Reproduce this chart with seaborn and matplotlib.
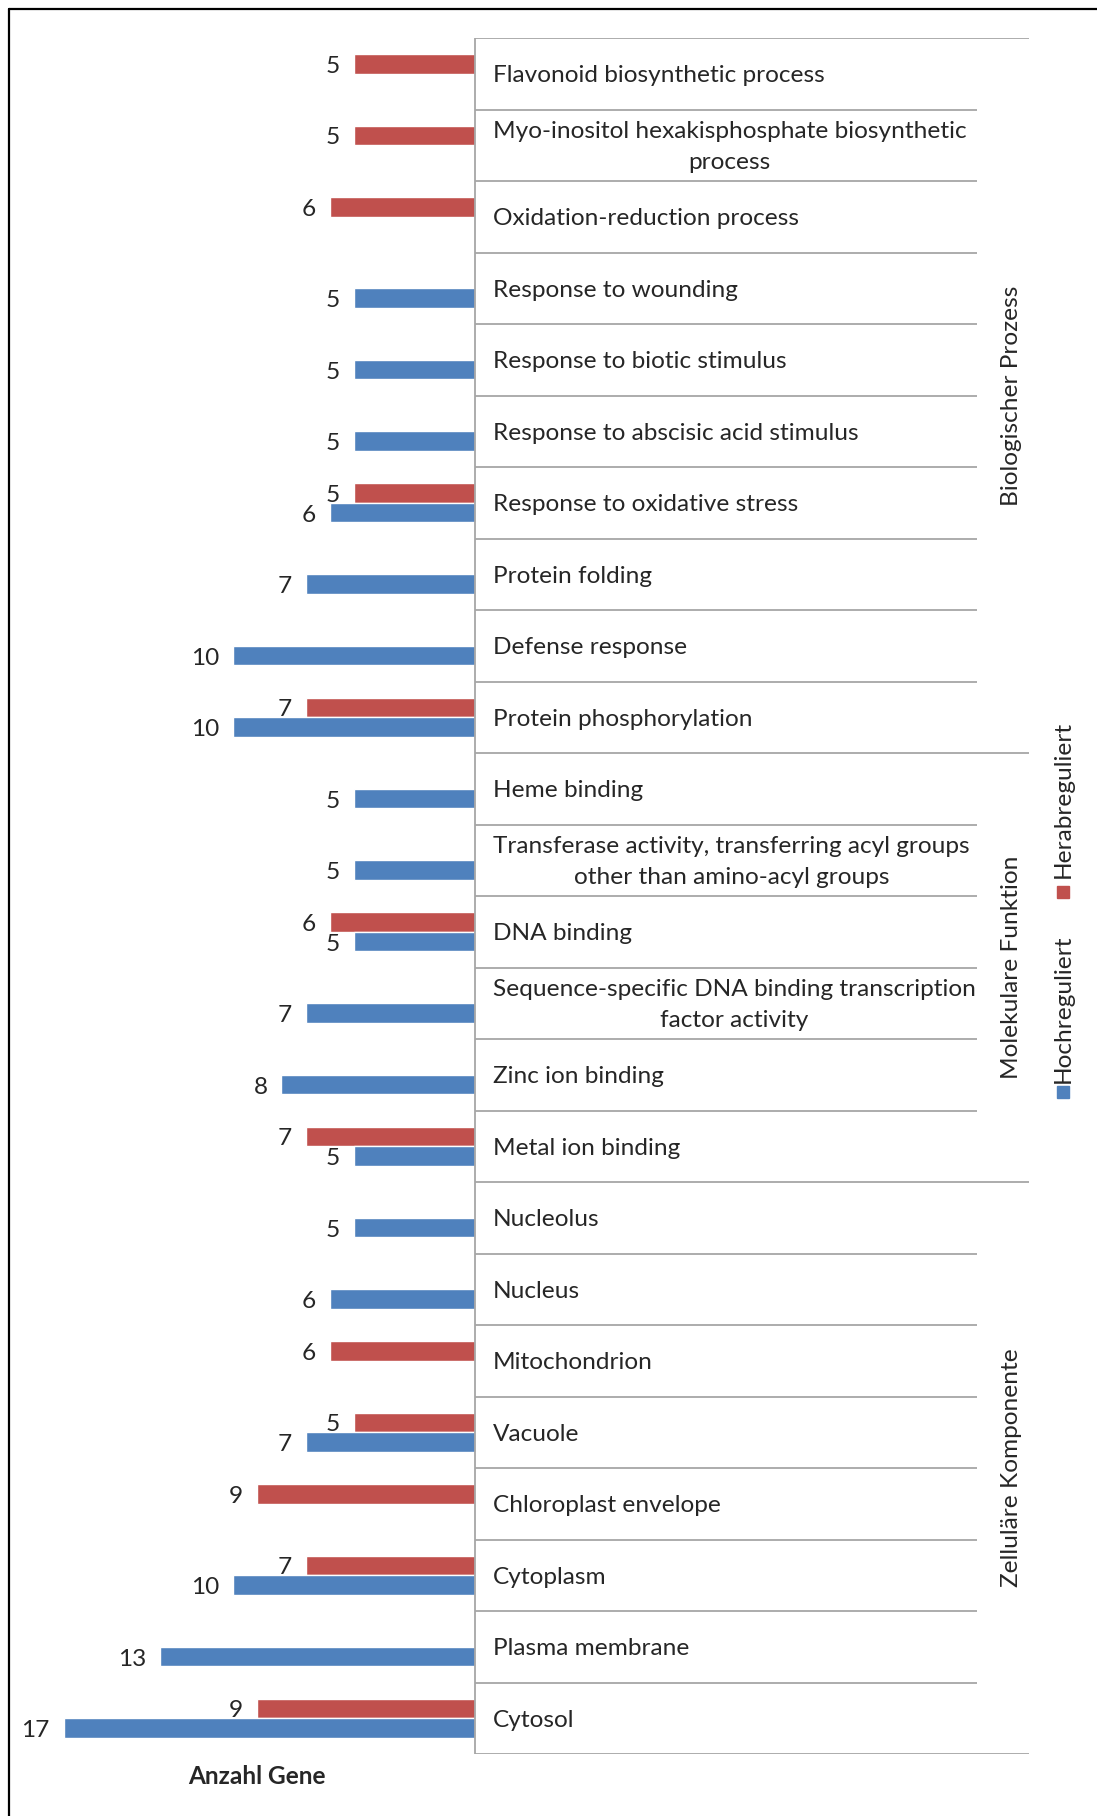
# GO-Kategorien: Anzahl hoch- und herabregulierter Gene
# Ausgabe: out.png (horizontales Balkendiagramm, Balken nach links)
import pandas as pd
import matplotlib.pyplot as plt
import seaborn as sns
from matplotlib.patches import Rectangle
from matplotlib.lines import Line2D

categories = [
    "Flavonoid biosynthetic process",
    "Myo-inositol hexakisphosphate biosynthetic\nprocess",
    "Oxidation-reduction process",
    "Response to wounding",
    "Response to biotic stimulus",
    "Response to abscisic acid stimulus",
    "Response to oxidative stress",
    "Protein folding",
    "Defense response",
    "Protein phosphorylation",
    "Heme binding",
    "Transferase activity, transferring acyl groups\nother than amino-acyl groups",
    "DNA binding",
    "Sequence-specific DNA binding transcription\nfactor activity",
    "Zinc ion binding",
    "Metal ion binding",
    "Nucleolus",
    "Nucleus",
    "Mitochondrion",
    "Vacuole",
    "Chloroplast envelope",
    "Cytoplasm",
    "Plasma membrane",
    "Cytosol",
]
hochreguliert = [0, 0, 0, 5, 5, 5, 6, 7, 10, 10,
                 5, 5, 5, 7, 8, 5,
                 5, 6, 0, 7, 0, 10, 13, 17]
herabreguliert = [5, 5, 6, 0, 0, 0, 5, 0, 0, 7,
                  0, 0, 6, 0, 0, 7,
                  0, 0, 6, 5, 9, 7, 0, 9]
groups = ["Biologischer Prozess", "Molekulare Funktion", "Zelluläre Komponente"]
group_sizes = [10, 6, 8]

palette = {"Hochreguliert": "#4F81BD", "Herabreguliert": "#C0504D"}
hue_order = ["Herabreguliert", "Hochreguliert"]

df = pd.DataFrame({
    "Kategorie": categories * 2,
    "Regulation": ["Herabreguliert"] * len(categories) + ["Hochreguliert"] * len(categories),
    "Anzahl": herabreguliert + hochreguliert,
})

sns.set_style("white")
plt.rcParams["font.family"] = ["Lato", "DejaVu Sans"]
FS = 17.6
GRAY = "#A6A6A6"

W, H = 1097, 1816
fig = plt.figure(figsize=(W / 100, H / 100), dpi=100)
# axes: x from 20px to 1044px, y from 38px to 1754px (from top)
ax = fig.add_axes([20 / W, (H - 1754) / H, (1044 - 20) / W, (1754 - 38) / H])

sns.barplot(data=df, x="Anzahl", y="Kategorie", hue="Regulation", hue_order=hue_order,
            palette=palette, orient="h", width=0.55, errorbar=None, saturation=1,
            legend=False, ax=ax)

ax.set_xlim(18.8, -23.5)
ax.set_ylim(len(categories) - 0.5, -0.5)
ax.set_xlabel("")
ax.set_ylabel("")
ax.set_xticks([])
ax.set_yticks([])
for s in ax.spines.values():
    s.set_visible(False)

# Wertebeschriftung (etwas tiefer gesetzt wie im Original)
for cont, vals in zip(ax.containers, [herabreguliert, hochreguliert]):
    anns = ax.bar_label(cont, labels=[str(v) if v else "" for v in vals], padding=10, fontsize=FS)
    for a in anns:
        dx, dy = a.xyann
        a.xyann = (dx, dy - 1.8)

# Kategorienamen und Trennlinien
row_end = -20.74
grp_end = -22.9
for i, cat in enumerate(categories):
    ax.text(-0.74, i + 0.03, cat, ha="left", va="center", multialignment="center",
            fontsize=FS, linespacing=1.6)

bounds = [-0.5]
for n in group_sizes:
    bounds.append(bounds[-1] + n)
for j in range(len(categories) + 1):
    y = j - 0.5
    end = grp_end if y in bounds else row_end
    ax.plot([0, end], [y, y], color=GRAY, lw=1.3, solid_capstyle="butt")
ax.plot([0, 0], [-0.5, len(categories) - 0.5], color=GRAY, lw=1.3)

for g, lo, hi in zip(groups, bounds[:-1], bounds[1:]):
    ax.text(-22.15, (lo + hi) / 2, g, rotation=90, ha="center", va="center", fontsize=FS)

# Achsentitel
fig.text(257 / W, (H - 1776) / H, "Anzahl Gene", ha="center", va="center",
         fontsize=FS, fontweight="bold")

# Legende (gedreht)
lx = 1063
sq = 12
for name, ysq, ytxt in [("Hochreguliert", 1092, 1009), ("Herabreguliert", 892, 799)]:
    fig.patches.append(Rectangle(((lx - sq / 2) / W, (H - ysq - sq / 2) / H), sq / W, sq / H,
                                 transform=fig.transFigure, color=palette[name]))
    fig.text(lx / W, (H - ytxt) / H, name, rotation=90, ha="center", va="center", fontsize=FS)

# Rahmen
fig.add_artist(Line2D([9 / W, 1.0], [(H - 9) / H] * 2, color="black", lw=1.6))
fig.add_artist(Line2D([9 / W] * 2, [0, (H - 9) / H], color="black", lw=1.6))

fig.savefig("out.png", dpi=100, facecolor="white")
